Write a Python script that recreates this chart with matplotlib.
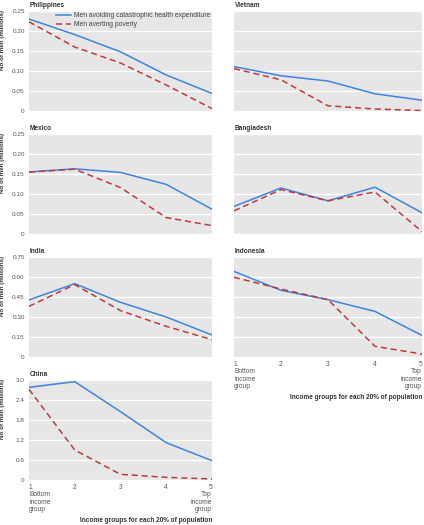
import matplotlib
matplotlib.use("Agg")
import matplotlib.pyplot as plt

plt.rcParams["font.family"] = ["Liberation Sans", "DejaVu Sans"]

groups = [1, 2, 3, 4, 5]
tick_labels = ["1\nBottom\nincome\ngroup", "2", "3", "4", "5\nTop\nincome\ngroup"]

countries = ["Philippines", "Vietnam", "Mexico", "Bangladesh", "India", "Indonesia", "China"]

avoid_che = {
    "Philippines": [0.230, 0.191, 0.148, 0.090, 0.044],
    "Vietnam":     [0.111, 0.088, 0.075, 0.043, 0.027],
    "Mexico":      [0.155, 0.163, 0.154, 0.124, 0.062],
    "Bangladesh":  [0.069, 0.115, 0.083, 0.117, 0.053],
    "India":       [0.428, 0.550, 0.410, 0.300, 0.165],
    "Indonesia":   [0.642, 0.500, 0.430, 0.342, 0.162],
    "China":       [2.78, 2.95, 2.05, 1.12, 0.58],
}
avert_pov = {
    "Philippines": [0.223, 0.160, 0.120, 0.065, 0.006],
    "Vietnam":     [0.106, 0.078, 0.013, 0.005, 0.001],
    "Mexico":      [0.155, 0.162, 0.116, 0.041, 0.021],
    "Bangladesh":  [0.058, 0.111, 0.083, 0.105, 0.006],
    "India":       [0.380, 0.543, 0.348, 0.230, 0.130],
    "Indonesia":   [0.598, 0.510, 0.430, 0.080, 0.022],
    "China":       [2.72, 0.90, 0.17, 0.08, 0.03],
}

yticks_small = [0, 0.05, 0.10, 0.15, 0.20, 0.25]
ylabels_small = ["0", "0.05", "0.10", "0.15", "0.20", "0.25"]
yticks_mid = [0, 0.15, 0.30, 0.45, 0.60, 0.75]
ylabels_mid = ["0", "0.15", "0.30", "0.45", "0.60", "0.75"]
yticks_big = [0, 0.6, 1.2, 1.8, 2.4, 3.0]
ylabels_big = ["0", "0.6", "1.2", "1.8", "2.4", "3.0"]

series_names = ["Men avoiding catastrophic health expenditure", "Men averting poverty"]
xlabel_text = "Income groups for each 20% of population"
ylabel_text = "No of men (millions)"

W, H = 424, 525
fig = plt.figure(figsize=(W / 100, H / 100), dpi=100)

BG = "#e6e6e6"
BLUE = "#3f84dc"
RED = "#c0393b"
TXT = "#555555"
DARK = "#333333"

layout = {
    "Philippines": (29, 11, 183, 100, "small", True),
    "Vietnam":     (234, 11, 188, 100, "small", False),
    "Mexico":      (29, 134, 183, 100, "small", True),
    "Bangladesh":  (234, 134, 188, 100, "small", False),
    "India":       (29, 257, 183, 100, "mid", True),
    "Indonesia":   (234, 257, 188, 100, "mid", False),
    "China":       (29, 380, 183, 100, "big", True),
}
ticksets = {"small": (yticks_small, ylabels_small),
            "mid": (yticks_mid, ylabels_mid),
            "big": (yticks_big, ylabels_big)}

for c in countries:
    x0, top, w, h, ts, left = layout[c]
    ax = fig.add_axes([x0 / W, (H - top - h) / H, w / W, h / H])
    ax.set_facecolor(BG)
    for s in ax.spines.values():
        s.set_visible(False)
    yt, yl = ticksets[ts]
    ax.set_ylim(yt[0], yt[-1])
    ax.set_xlim(1, 5)
    ax.set_yticks(yt)
    ax.grid(axis="y", color="white", linewidth=0.9)
    ax.set_axisbelow(True)
    ax.tick_params(axis="y", length=0, labelsize=4.6, colors=TXT, pad=3)
    ax.tick_params(axis="x", length=0, labelsize=4.8, colors=TXT, pad=3)
    if left:
        ax.set_yticklabels(yl)
        ax.set_ylabel(ylabel_text, fontsize=4.5, fontweight="bold", color=DARK)
        ax.yaxis.set_label_coords((5.5 - x0) / w, 0.71)
    else:
        ax.set_yticklabels([])
    ax.plot(groups, avoid_che[c], color=BLUE, linewidth=1.1, label=series_names[0])
    ax.plot(groups, avert_pov[c], color=RED, linewidth=1.1, linestyle=(0, (4, 2.5)), label=series_names[1])
    ax.set_title(c, loc="left", fontsize=4.7, fontweight="bold", color=DARK, pad=3, x=0.003)
    ax.set_xticks(groups)
    if c in ("Indonesia", "China"):
        labs = ax.set_xticklabels(tick_labels, linespacing=1.05)
        labs[0].set_ha("left")
        labs[-1].set_ha("right")
        labs[-1].set_multialignment("right")
        ax.set_xlabel(xlabel_text, fontsize=4.7, fontweight="bold", color=DARK, loc="right", labelpad=3)
    else:
        ax.set_xticklabels([])
    if c == "Philippines":
        ax.legend(loc="upper right", frameon=False, fontsize=4.9, handlelength=2.2,
                  borderaxespad=0.0, borderpad=0.2, labelspacing=0.3, handletextpad=0.45,
                  bbox_to_anchor=(1.0, 1.0), labelcolor="#444444")

fig.savefig("out.png", dpi=100)
